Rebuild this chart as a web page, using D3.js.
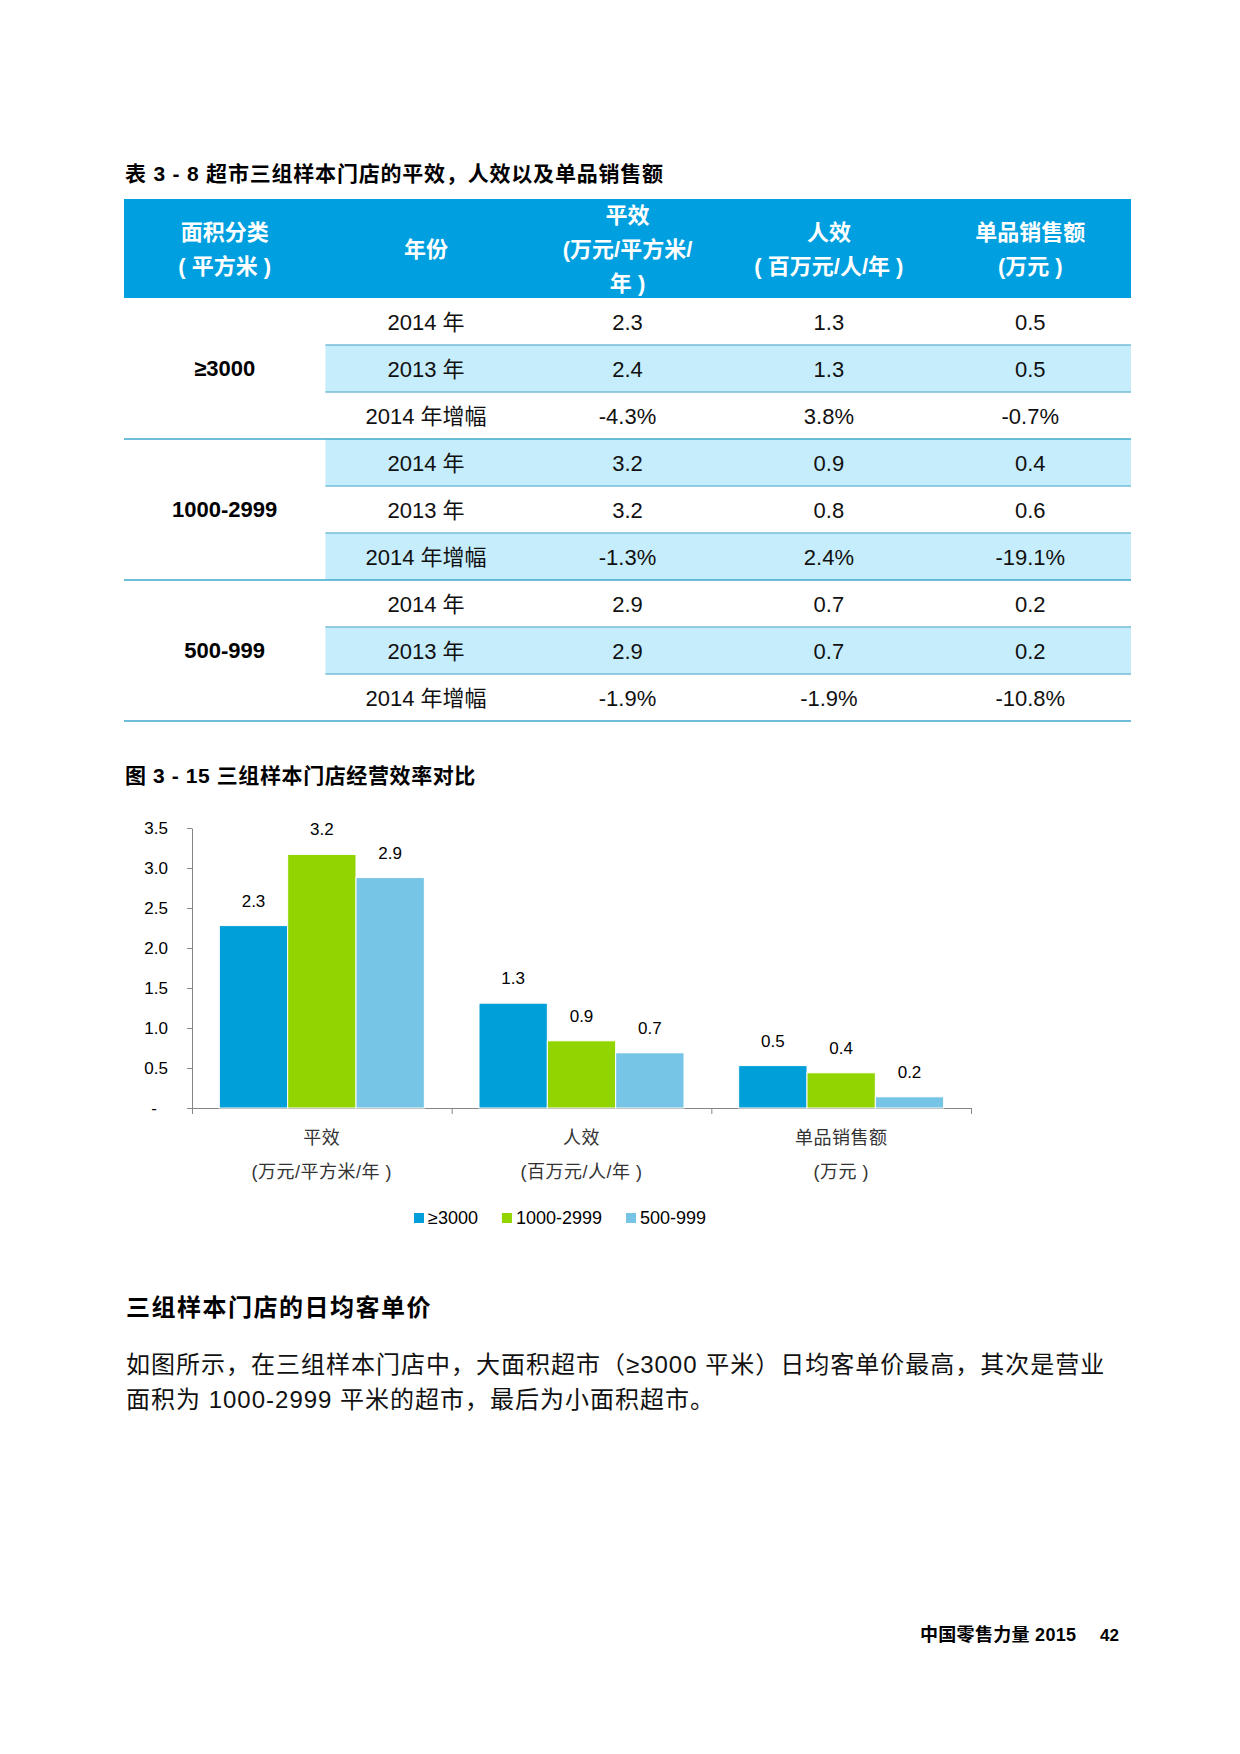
<html>
<head>
<meta charset="utf-8">
<script src="https://d3js.org/d3.v7.min.js"></script>
<style>
body {
	margin: 0;
	background: #fff;
}
svg text {
	font-family: "Liberation Sans", Arial, "Noto Sans CJK SC", sans-serif;
}
</style>
</head>
<body>
<div id="page"></div>
<script>
	// ---- table data ----
	var tableTitle = "表 3 - 8 超市三组样本门店的平效，人效以及单品销售额";
	var tableHeaders = [["面积分类", "( 平方米 )"], ["年份"], ["平效", "(万元/平方米/", "年 )"], ["人效", "( 百万元/人/年 )"], ["单品销售额", "(万元 )"]];
	var sizeGroups = ["≥3000", "1000-2999", "500-999"];
	var rowLabels = ["2014 年", "2013 年", "2014 年增幅"];
	var pingxiao = ["2.3", "2.4", "-4.3%", "3.2", "3.2", "-1.3%", "2.9", "2.9", "-1.9%"];
	var renxiao = ["1.3", "1.3", "3.8%", "0.9", "0.8", "2.4%", "0.7", "0.7", "-1.9%"];
	var danpin = ["0.5", "0.5", "-0.7%", "0.4", "0.6", "-19.1%", "0.2", "0.2", "-10.8%"];

	// ---- chart data ----
	var chartTitle = "图 3 - 15 三组样本门店经营效率对比";
	var categories = ["平效", "人效", "单品销售额"];
	var categoryUnits = ["(万元/平方米/年 )", "(百万元/人/年 )", "(万元 )"];
	var series = ["≥3000", "1000-2999", "500-999"];
	var values3000 = [2.28, 1.31, 0.53];
	var values1000 = [3.17, 0.84, 0.44];
	var values500 = [2.88, 0.69, 0.14];
	var labels3000 = ["2.3", "1.3", "0.5"];
	var labels1000 = ["3.2", "0.9", "0.4"];
	var labels500 = ["2.9", "0.7", "0.2"];
	var yTicks = [0, 0.5, 1.0, 1.5, 2.0, 2.5, 3.0, 3.5];

	var heading = "三组样本门店的日均客单价";
	var paragraph = ["如图所示，在三组样本门店中，大面积超市（≥3000 平米）日均客单价最高，其次是营业",
		"面积为 1000-2999 平米的超市，最后为小面积超市。"];
	var footer = "中国零售力量 2015";
	var pageNo = "42";

	var colors = ["#009FDA", "#92D400", "#77C5E6"];

	var svg = d3.select("#page").append("svg")
		.attr("width", 1240)
		.attr("height", 1754);

	// ================= table =================
	var tLeft = 124, tRight = 1131, tTop = 199, headH = 99, rowH = 47;

	svg.append("text")
		.attr("x", 125).attr("y", 173).attr("dy", "0.36em")
		.style("font-size", "21px").style("font-weight", "bold")
		.style("letter-spacing", "0.8px")
		.text(tableTitle);

	var col = d3.scaleBand()
		.domain(d3.range(tableHeaders.length))
		.range([tLeft, tRight]);

	svg.append("rect")
		.attr("x", tLeft).attr("y", tTop)
		.attr("width", tRight - tLeft).attr("height", headH)
		.attr("fill", "#009FDF");

	var head = svg.selectAll("text.head")
		.data(tableHeaders)
		.enter().append("text")
		.attr("class", "head")
		.attr("text-anchor", "middle")
		.attr("fill", "#fff")
		.style("font-size", "22px")
		.style("font-weight", "bold");

	head.each(function(lines, i) {
		var cy = tTop + headH / 2 + 1;
		var start = cy - (lines.length - 1) * 34 / 2;
		d3.select(this).selectAll("tspan")
			.data(lines)
			.enter().append("tspan")
			.attr("x", col(i) + col.bandwidth() / 2)
			.attr("y", (d, j) => start + j * 34)
			.attr("dy", "0.36em")
			.text(d => d);
	});

	var rowIdx = d3.range(sizeGroups.length * rowLabels.length);
	var row = d3.scaleBand()
		.domain(rowIdx)
		.range([tTop + headH, tTop + headH + rowH * rowIdx.length]);

	// striped rows
	svg.selectAll("rect.stripe")
		.data(rowIdx.filter(r => r % 2 === 1))
		.enter().append("rect")
		.attr("class", "stripe")
		.attr("x", col(1)).attr("y", d => row(d))
		.attr("width", tRight - col(1)).attr("height", rowH)
		.attr("fill", "#C6EDFC");

	// row lines
	svg.selectAll("line.rowline")
		.data(rowIdx)
		.enter().append("line")
		.attr("class", "rowline")
		.attr("x1", d => (d % 3 === 2) ? tLeft : col(1))
		.attr("x2", tRight)
		.attr("y1", d => row(d) + rowH)
		.attr("y2", d => row(d) + rowH)
		.attr("stroke", d => (d % 3 === 2) ? "#3FA8CC" : "#74BCD8")
		.attr("stroke-width", 1.5);

	// group labels
	svg.selectAll("text.group")
		.data(sizeGroups)
		.enter().append("text")
		.attr("class", "group")
		.attr("text-anchor", "middle")
		.attr("x", col(0) + col.bandwidth() / 2)
		.attr("y", (d, i) => row(i * 3 + 1) + rowH / 2)
		.attr("dy", "0.36em")
		.style("font-size", "22px").style("font-weight", "bold")
		.text(d => d);

	var columns = [rowIdx.map(r => rowLabels[r % 3]), pingxiao, renxiao, danpin];
	columns.forEach(function(vals, c) {
		svg.selectAll("text.cell" + c)
			.data(vals)
			.enter().append("text")
			.attr("class", "cell" + c)
			.attr("text-anchor", "middle")
			.attr("x", col(c + 1) + col.bandwidth() / 2)
			.attr("y", (d, r) => row(r) + rowH / 2 + 1)
			.attr("dy", "0.36em")
			.style("font-size", "22px")
			.attr("fill", "#111")
			.text(d => d);
	});

	// ================= chart =================
	svg.append("text")
		.attr("x", 125).attr("y", 775).attr("dy", "0.36em")
		.style("font-size", "21px").style("font-weight", "bold")
		.style("letter-spacing", "0.6px")
		.text(chartTitle);

	var plotL = 192, plotR = 971, plotT = 828, plotB = 1108;

	var y = d3.scaleLinear().domain([0, 3.5]).range([plotB, plotT]);
	var x0 = d3.scaleBand().domain(categories).range([plotL, plotR]);
	var x1 = d3.scaleBand().domain(series).range([0, x0.bandwidth()]).paddingOuter(0.4);
	var z = d3.scaleOrdinal().domain(series).range(colors);

	var yAxis = svg.append("g")
		.attr("transform", `translate(${plotL},0)`)
		.call(d3.axisLeft(y).tickValues(yTicks).tickSize(5).tickSizeOuter(0).tickPadding(19)
			.tickFormat(d => d === 0 ? "-" : d3.format(".1f")(d)));
	yAxis.selectAll("path, line").attr("stroke", "#868686");
	yAxis.selectAll("text")
		.style("font-size", "17px").attr("fill", "#000")
		.style("font-family", "\"Liberation Sans\", Arial, sans-serif");
	yAxis.selectAll("text").filter(d => d === 0)
		.attr("text-anchor", "middle").attr("x", -38);

	var xb = d3.scaleLinear().domain([0, categories.length]).range([plotL, plotR]);
	var xAxis = svg.append("g")
		.attr("transform", `translate(0,${plotB})`)
		.call(d3.axisBottom(xb).ticks(categories.length).tickSize(6).tickSizeOuter(0).tickFormat(""));
	xAxis.selectAll("path, line").attr("stroke", "#868686");

	var valuesBySeries = [values3000, values1000, values500];
	var labelsBySeries = [labels3000, labels1000, labels500];
	var barData = [];
	categories.forEach(function(c, i) {
		series.forEach(function(s, j) {
			barData.push({cat: c, key: s, value: valuesBySeries[j][i], label: labelsBySeries[j][i]});
		});
	});

	svg.selectAll("rect.bar")
		.data(barData)
		.enter().append("rect")
		.attr("class", "bar")
		.attr("x", d => x0(d.cat) + x1(d.key))
		.attr("y", d => y(d.value))
		.attr("width", x1.bandwidth())
		.attr("height", d => y(0) - y(d.value))
		.attr("fill", d => z(d.key))
		.attr("stroke", "#fff")
		.attr("stroke-width", 1);

	svg.selectAll("text.barlabel")
		.data(barData)
		.enter().append("text")
		.attr("class", "barlabel")
		.attr("text-anchor", "middle")
		.attr("x", d => x0(d.cat) + x1(d.key) + x1.bandwidth() / 2)
		.attr("y", d => y(d.value) - 19)
		.style("font-size", "17px")
		.attr("fill", "#000")
		.text(d => d.label);

	svg.selectAll("text.catname")
		.data(categories)
		.enter().append("text")
		.attr("class", "catname")
		.attr("text-anchor", "middle")
		.attr("x", d => x0(d) + x0.bandwidth() / 2)
		.attr("y", 1138).attr("dy", "0.36em")
		.style("font-size", "18px").style("letter-spacing", "0.5px").attr("fill", "#333")
		.text(d => d);

	svg.selectAll("text.catunit")
		.data(categoryUnits)
		.enter().append("text")
		.attr("class", "catunit")
		.attr("text-anchor", "middle")
		.attr("x", (d, i) => x0(categories[i]) + x0.bandwidth() / 2)
		.attr("y", 1172).attr("dy", "0.36em")
		.style("font-size", "18px").style("letter-spacing", "0.5px").attr("fill", "#333")
		.text(d => d);

	// legend
	var legend = svg.append("g");
	var lx = 414;
	series.forEach(function(s) {
		legend.append("rect")
			.attr("x", lx).attr("y", 1213)
			.attr("width", 10).attr("height", 10)
			.attr("fill", z(s));
		var t = legend.append("text")
			.attr("x", lx + 14).attr("y", 1218).attr("dy", "0.36em")
			.style("font-size", "18px").attr("fill", "#000")
			.text(s);
		lx += 14 + t.node().getComputedTextLength() + 24;
	});

	// ================= text below =================
	svg.append("text")
		.attr("x", 126).attr("y", 1307).attr("dy", "0.36em")
		.style("font-size", "24px").style("font-weight", "bold")
		.style("letter-spacing", "1.5px")
		.text(heading);

	svg.selectAll("text.para")
		.data(paragraph)
		.enter().append("text")
		.attr("class", "para")
		.attr("x", 126)
		.attr("y", (d, i) => 1364 + i * 35).attr("dy", "0.36em")
		.style("font-size", "24px")
		.style("letter-spacing", "1px")
		.attr("fill", "#111")
		.text(d => d);

	svg.append("text")
		.attr("x", 920).attr("y", 1635).attr("dy", "0.36em")
		.style("font-size", "18px").style("font-weight", "bold")
		.style("letter-spacing", "0.3px")
		.text(footer);

	svg.append("text")
		.attr("x", 1100).attr("y", 1635).attr("dy", "0.36em")
		.style("font-size", "17px").style("font-weight", "bold")
		.text(pageNo);
</script>
</body>
</html>
